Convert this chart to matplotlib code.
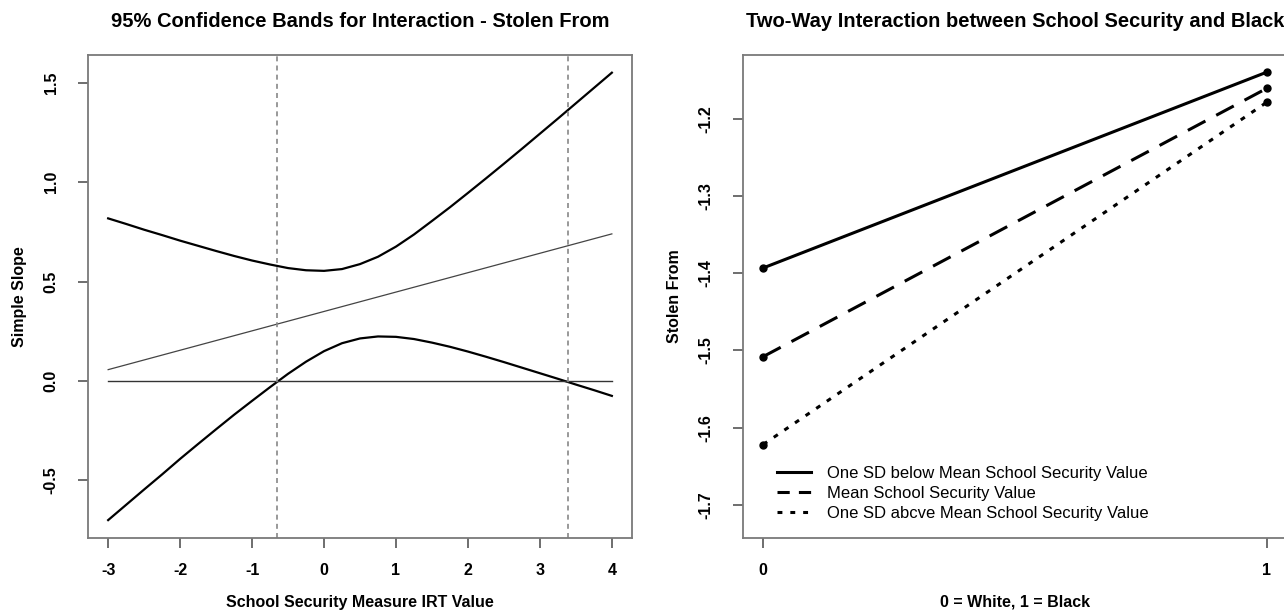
import matplotlib
matplotlib.use("Agg")
import matplotlib.pyplot as plt
from matplotlib.lines import Line2D

plt.rcParams["font.family"] = ["Liberation Sans", "DejaVu Sans"]
plt.rcParams["axes.unicode_minus"] = False

# left panel: confidence bands for the simple slope
irt_x = [-3.0, -2.75, -2.5, -2.25, -2.0, -1.75, -1.5, -1.25, -1.0, -0.75, -0.5, -0.25,
         0.0, 0.25, 0.5, 0.75, 1.0, 1.25, 1.5, 1.75, 2.0, 2.25, 2.5, 2.75, 3.0, 3.25, 3.5, 3.75, 4.0]
upper_band = [0.818, 0.790, 0.761, 0.734, 0.706, 0.680, 0.654, 0.629, 0.606, 0.586, 0.568, 0.557,
              0.554, 0.563, 0.588, 0.625, 0.676, 0.737, 0.805, 0.874, 0.946, 1.019, 1.093, 1.168,
              1.244, 1.320, 1.397, 1.474, 1.551]
lower_band = [-0.700, -0.623, -0.546, -0.470, -0.392, -0.317, -0.243, -0.170, -0.100, -0.031, 0.036, 0.097,
              0.150, 0.190, 0.214, 0.224, 0.222, 0.211, 0.193, 0.172, 0.148, 0.122, 0.095, 0.067,
              0.039, 0.011, -0.018, -0.046, -0.075]
slope_x = [-3.0, 4.0]
slope_y = [0.057, 0.740]
sig_bounds = [-0.65, 3.39]

# right panel: two-way interaction
race_x = [0, 1]
sd_below = [-1.393, -1.139]
sd_mean = [-1.508, -1.160]
sd_above = [-1.622, -1.178]
legend_labels = ["One SD below Mean School Security Value",
                 "Mean School Security Value",
                 "One SD abcve Mean School Security Value"]

W, H = 1284, 611
fig = plt.figure(figsize=(W / 100, H / 100), dpi=100)


def px_axes(left, top, right, bottom):
    return fig.add_axes([left / W, 1 - bottom / H, (right - left) / W, (bottom - top) / H])


def r_style(ax):
    for sp in ax.spines.values():
        sp.set_color("#7a7a7a")
        sp.set_linewidth(1.3)
    ax.tick_params(direction="out", length=7, width=1.2, color="#555555",
                   labelsize=11.5, pad=11)
    ax.tick_params(axis="y", pad=14)
    for lab in ax.get_xticklabels() + ax.get_yticklabels():
        lab.set_fontweight("bold")
    for lab in ax.get_yticklabels():
        lab.set_rotation(90)
        lab.set_va("center")


ax1 = px_axes(88, 55, 632, 538)
ax1.plot(irt_x, upper_band, color="black", lw=1.6)
ax1.plot(irt_x, lower_band, color="black", lw=1.6)
ax1.plot(slope_x, slope_y, color="#444444", lw=0.9)
ax1.plot(slope_x, [0, 0], color="#333333", lw=1.0)
for b in sig_bounds:
    ax1.axvline(b, color="#888888", lw=1.2, dashes=(3, 2.5))
ax1.set_xlim(-3.28, 4.28)
ax1.set_ylim(-0.79, 1.64)
ax1.set_xticks(range(-3, 5))
ax1.set_yticks([-0.5, 0.0, 0.5, 1.0, 1.5])
ax1.set_yticklabels(["-0.5", "0.0", "0.5", "1.0", "1.5"])
ax1.set_title("95% Confidence Bands for Interaction - Stolen From",
              fontsize=14.5, fontweight="bold", pad=20)
ax1.set_xlabel("School Security Measure IRT Value", fontsize=11.5, fontweight="bold", labelpad=12)
ax1.set_ylabel("Simple Slope", fontsize=11.5, fontweight="bold", labelpad=12)
r_style(ax1)

ax2 = px_axes(743, 55, 1287, 538)
ax2.plot(race_x, sd_below, color="black", lw=2.2, marker="o", ms=5)
ax2.plot(race_x, sd_mean, color="black", lw=2.2, marker="o", ms=5, dashes=(6.5, 4))
ax2.plot(race_x, sd_above, color="black", lw=2.2, marker="o", ms=5, dashes=(1.6, 2.6))
ax2.set_xlim(-0.04, 1.04)
ax2.set_ylim(-1.7432, -1.1168)
ax2.set_xticks(race_x)
ax2.set_yticks([-1.7, -1.6, -1.5, -1.4, -1.3, -1.2])
ax2.set_title("Two-Way Interaction between School Security and Black",
              fontsize=14.5, fontweight="bold", pad=20)
ax2.set_xlabel("0 = White, 1 = Black", fontsize=11.5, fontweight="bold", labelpad=12)
ax2.set_ylabel("Stolen From", fontsize=11.5, fontweight="bold", labelpad=12)
handles = [Line2D([], [], color="black", lw=2.2),
           Line2D([], [], color="black", lw=2.2, dashes=(4, 3)),
           Line2D([], [], color="black", lw=2.2, dashes=(1.6, 2.6))]
ax2.legend(handles, legend_labels, loc="lower left", bbox_to_anchor=(0.048, 0.018),
           frameon=False, fontsize=12, handlelength=2.0, handletextpad=1.0,
           labelspacing=0.3, borderpad=0)
r_style(ax2)

fig.savefig("out.png", dpi=100)
